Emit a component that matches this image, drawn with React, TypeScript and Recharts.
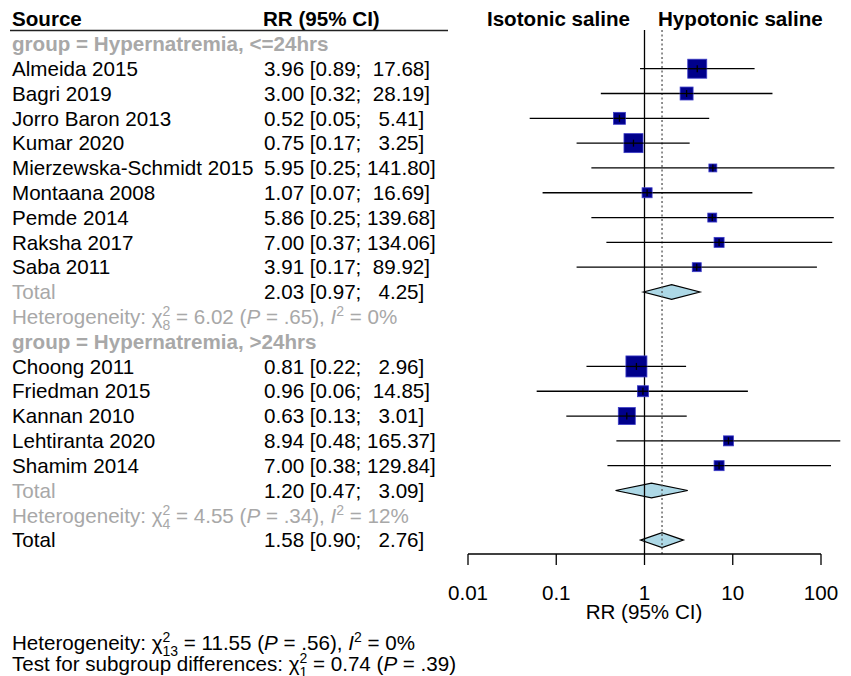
import React from 'react'
import { ReferenceArea, ReferenceLine, Scatter, ScatterChart, XAxis, YAxis } from 'recharts'

const FONT = '"Liberation Sans", Arial, Helvetica, sans-serif'
const FS = 20.6
const GRAY = '#a8a8a8'

const groupLabels = ['group = Hypernatremia, <=24hrs', 'group = Hypernatremia, >24hrs']

const studies = [
  'Almeida 2015',
  'Bagri 2019',
  'Jorro Baron 2013',
  'Kumar 2020',
  'Mierzewska-Schmidt 2015',
  'Montaana 2008',
  'Pemde 2014',
  'Raksha 2017',
  'Saba 2011',
  'Choong 2011',
  'Friedman 2015',
  'Kannan 2010',
  'Lehtiranta 2020',
  'Shamim 2014',
]
const studyGroup = [0, 0, 0, 0, 0, 0, 0, 0, 0, 1, 1, 1, 1, 1]
const rr = [3.96, 3.0, 0.52, 0.75, 5.95, 1.07, 5.86, 7.0, 3.91, 0.81, 0.96, 0.63, 8.94, 7.0]
const ciLow = [0.89, 0.32, 0.05, 0.17, 0.25, 0.07, 0.25, 0.37, 0.17, 0.22, 0.06, 0.13, 0.48, 0.38]
const ciHigh = [17.68, 28.19, 5.41, 3.25, 141.8, 16.69, 139.68, 134.06, 89.92, 2.96, 14.85, 3.01, 165.37, 129.84]
// weights (%) estimated from square sizes
const weight = [14.4, 6.7, 5.7, 14.4, 2.5, 4.0, 3.2, 4.0, 3.2, 17.6, 4.8, 11.5, 4.0, 4.0]

// pooled: subgroup 1, subgroup 2, overall
const pooledRR = [2.03, 1.2, 1.58]
const pooledLow = [0.97, 0.47, 0.9]
const pooledHigh = [4.25, 3.09, 2.76]

// heterogeneity: subgroup 1, subgroup 2, overall
const hetChi = ['6.02', '4.55', '11.55']
const hetDf = ['8', '4', '13']
const hetP = ['.65', '.34', '.56']
const hetI2 = ['0', '12', '0']
const subgroupChi = '0.74'
const subgroupDf = '1'
const subgroupP = '.39'

const xTicks = [0.01, 0.1, 1, 10, 100]

type Row =
  | { kind: 'group'; g: number }
  | { kind: 'study'; i: number }
  | { kind: 'pooled'; p: number }
  | { kind: 'het'; h: number }

const rows: Row[] = []
for (let g = 0; g < 2; g++) {
  rows.push({ kind: 'group', g })
  studies.forEach((_, i) => {
    if (studyGroup[i] === g) rows.push({ kind: 'study', i })
  })
  rows.push({ kind: 'pooled', p: g })
  rows.push({ kind: 'het', h: g })
}
rows.push({ kind: 'pooled', p: 2 })

const rowOfStudy = (i: number) => rows.findIndex((r) => r.kind === 'study' && r.i === i)
const rowOfPooled = (p: number) => rows.findIndex((r) => r.kind === 'pooled' && r.p === p)

const studyPoints = studies.map((_, i) => ({ x: Math.log10(rr[i]), y: rowOfStudy(i), w: weight[i] }))

const fmtCI = (est: number, lo: number, hi: number) =>
  `${est.toFixed(2)} [${lo.toFixed(2)}; ${hi.toFixed(2).padStart(6, ' ')}]`

const LEFT_X = 12
const CI_X = 264

function HetText({ x, y, color, df, chi, p, i2 }: any) {
  return (
    <text x={x} y={y} dy="0.35em" fill={color} fontSize={FS} fontFamily={FONT} xmlSpace="preserve" style={{ whiteSpace: 'pre' }}>
      <tspan>Heterogeneity: χ</tspan>
      <tspan fontSize={14} dy={-8}>2</tspan>
      <tspan fontSize={14} dx={-7.8} dy={14}>{df}</tspan>
      <tspan dy={-6}>{` = ${chi} (`}</tspan>
      <tspan fontStyle="italic">P</tspan>
      <tspan>{` = ${p}), `}</tspan>
      <tspan fontStyle="italic">I</tspan>
      <tspan fontSize={14} dy={-8}>2</tspan>
      <tspan dy={8}>{` = ${i2}%`}</tspan>
    </text>
  )
}

function RowTick(props: any) {
  const { y, payload } = props
  const row = rows[Math.round(payload.value)]
  if (!row) return <g />
  const base = { fontSize: FS, fontFamily: FONT, dy: '0.35em', xmlSpace: 'preserve', style: { whiteSpace: 'pre' as const } }
  if (row.kind === 'group') {
    return (
      <text x={LEFT_X} y={y} fill={GRAY} fontWeight="bold" {...base}>
        {groupLabels[row.g]}
      </text>
    )
  }
  if (row.kind === 'study') {
    const i = row.i
    return (
      <g>
        <text x={LEFT_X} y={y} fill="#000" {...base}>{studies[i]}</text>
        <text x={CI_X} y={y} fill="#000" {...base}>{fmtCI(rr[i], ciLow[i], ciHigh[i])}</text>
      </g>
    )
  }
  if (row.kind === 'pooled') {
    const p = row.p
    return (
      <g>
        <text x={LEFT_X} y={y} fill={p < 2 ? GRAY : '#000'} {...base}>Total</text>
        <text x={CI_X} y={y} fill="#000" {...base}>{fmtCI(pooledRR[p], pooledLow[p], pooledHigh[p])}</text>
      </g>
    )
  }
  const h = row.h
  return <HetText x={LEFT_X} y={y} color={GRAY} df={hetDf[h]} chi={hetChi[h]} p={hetP[h]} i2={hetI2[h]} />
}

function StudySquare(props: any) {
  const { cx, cy, payload } = props
  const s = 21 * Math.sqrt(payload.w / 17.6)
  return (
    <g>
      <rect x={cx - s / 2} y={cy - s / 2} width={s} height={s} fill="#00008B" stroke="#3c3cc8" strokeWidth={0.8} />
      <line x1={cx - s / 2} x2={cx + s / 2} y1={cy} y2={cy} stroke="#000" strokeWidth={1.3} />
      <line x1={cx} x2={cx} y1={cy - 3.5} y2={cy + 3.5} stroke="#000" strokeWidth={1.3} />
    </g>
  )
}

const diamond = (est: number, lo: number, hi: number) => (props: any) => {
  const { x, y, width, height } = props
  const f = (Math.log10(est) - Math.log10(lo)) / (Math.log10(hi) - Math.log10(lo))
  const mx = x + f * width
  const my = y + height / 2
  return (
    <polygon
      points={`${x},${my} ${mx},${y} ${x + width},${my} ${mx},${y + height}`}
      fill="#ADD8E6"
      stroke="#000"
      strokeWidth={1.2}
    />
  )
}

export default function App() {
  const W = 851
  const H = 676
  const rowTicks = rows.map((_, i) => i)
  return (
    <div style={{ position: 'absolute', left: 0, top: 0, width: W, height: H, background: '#fff' }}>
      <ScatterChart width={W} height={H} margin={{ top: 30, right: 30, bottom: 92, left: 0 }}>
        <XAxis
          type="number"
          dataKey="x"
          domain={[-2, 2]}
          ticks={xTicks.map((t) => Math.log10(t))}
          tickFormatter={(v: number) => String(xTicks[Math.round(v) + 2])}
          tickSize={11}
          tickMargin={20}
          height={30}
          stroke="#000"
          strokeWidth={1.3}
          tick={{ fill: '#000', fontSize: FS, fontFamily: FONT }}
        />
        <YAxis
          type="number"
          dataKey="y"
          domain={[-0.56, 20.56]}
          reversed
          ticks={rowTicks}
          interval={0}
          width={468}
          axisLine={false}
          tickLine={false}
          tick={(p: any) => <RowTick {...p} />}
        />
        <ReferenceLine x={0} stroke="#000" strokeWidth={1.3} ifOverflow="visible" />
        <ReferenceLine x={Math.log10(pooledRR[2])} stroke="#555" strokeWidth={1.3} strokeDasharray="2 2.5" ifOverflow="visible" />
        {studies.map((_, i) => (
          <ReferenceLine
            key={`ci-${i}`}
            segment={[
              { x: Math.log10(ciLow[i]), y: rowOfStudy(i) },
              { x: Math.log10(ciHigh[i]), y: rowOfStudy(i) },
            ]}
            stroke="#000"
            strokeWidth={1.3}
            ifOverflow="visible"
          />
        ))}
        {pooledRR.map((est, p) => (
          <ReferenceArea
            key={`pool-${p}`}
            x1={Math.log10(pooledLow[p])}
            x2={Math.log10(pooledHigh[p])}
            y1={rowOfPooled(p) - 0.3}
            y2={rowOfPooled(p) + 0.3}
            ifOverflow="visible"
            shape={diamond(est, pooledLow[p], pooledHigh[p])}
          />
        ))}
        <Scatter data={studyPoints} isAnimationActive={false} shape={(p: any) => <StudySquare {...p} />} />
      </ScatterChart>
      <svg width={W} height={H} style={{ position: 'absolute', left: 0, top: 0, pointerEvents: 'none' }}>
        <g fontFamily={FONT} fontSize={FS} fontWeight="bold" fill="#000">
          <text x={LEFT_X} y={26}>Source</text>
          <text x={CI_X - 1} y={26}>RR (95% CI)</text>
          <text x={630} y={26} textAnchor="end">Isotonic saline</text>
          <text x={658} y={26}>Hypotonic saline</text>
        </g>
        <line x1={10} x2={448} y1={30.5} y2={30.5} stroke="#222" strokeWidth={1.5} />
        <text x={644} y={619} textAnchor="middle" fontFamily={FONT} fontSize={FS} fill="#000">RR (95% CI)</text>
        <HetText x={LEFT_X} y={643} color="#000" df={hetDf[2]} chi={hetChi[2]} p={hetP[2]} i2={hetI2[2]} />
        <text x={LEFT_X} y={664} dy="0.35em" fontFamily={FONT} fontSize={FS} fill="#000" xmlSpace="preserve" style={{ whiteSpace: 'pre' }}>
          <tspan>Test for subgroup differences: χ</tspan>
          <tspan fontSize={14} dy={-8}>2</tspan>
          <tspan fontSize={14} dx={-7.8} dy={14}>{subgroupDf}</tspan>
          <tspan dy={-6}>{` = ${subgroupChi} (`}</tspan>
          <tspan fontStyle="italic">P</tspan>
          <tspan>{` = ${subgroupP})`}</tspan>
        </text>
      </svg>
    </div>
  )
}
